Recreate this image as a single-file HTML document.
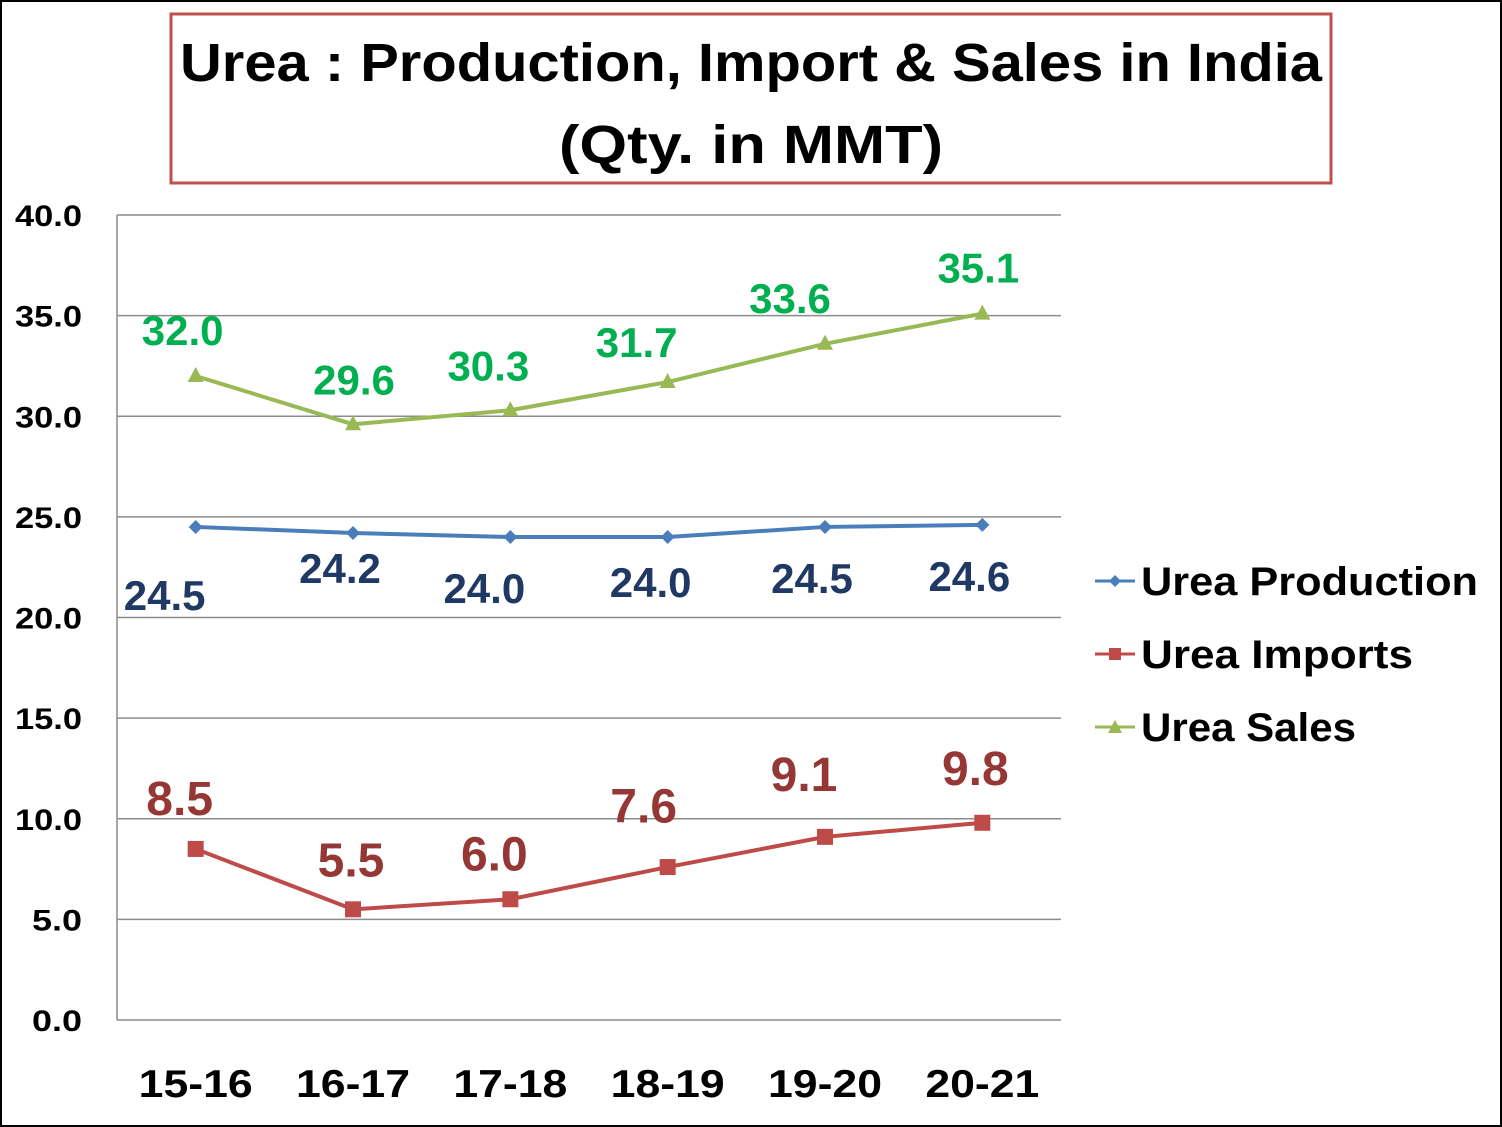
<!DOCTYPE html>
<html><head><meta charset="utf-8"><style>
html,body{margin:0;padding:0;background:#fff}
svg{display:block;font-family:"Liberation Sans",sans-serif;font-weight:bold}
</style></head><body>
<svg id="chart" width="1502" height="1127" viewBox="0 0 1502 1127">
<rect x="1" y="1" width="1500" height="1125" fill="#fff" stroke="#000" stroke-width="2"/>
<rect x="171" y="14" width="1160" height="169" fill="#fff" stroke="#C0504D" stroke-width="3"/>
<text x="751" y="81" text-anchor="middle" font-size="54" textLength="1142" lengthAdjust="spacingAndGlyphs">Urea : Production, Import &amp; Sales in India</text>
<text x="751" y="163" text-anchor="middle" font-size="54" textLength="384" lengthAdjust="spacingAndGlyphs">(Qty. in MMT)</text>
<g id="grid"></g><g id="series"></g><g id="labels"></g>
<g>
 <g>
  <line x1="1095" y1="581" x2="1135" y2="581" stroke="#4A7EBB" stroke-width="3"/>
  <path d="M1115 575 L1121 581 L1115 587 L1109 581Z" fill="#4A7EBB"/>
  <text x="1141" y="595" font-size="40" textLength="337" lengthAdjust="spacingAndGlyphs">Urea Production</text>
 </g>
 <g>
  <line x1="1095" y1="654" x2="1135" y2="654" stroke="#BE4B48" stroke-width="3"/>
  <rect x="1109" y="648" width="12" height="12" fill="#BE4B48"/>
  <text x="1141" y="668" font-size="40" textLength="272" lengthAdjust="spacingAndGlyphs">Urea Imports</text>
 </g>
 <g>
  <line x1="1095" y1="727" x2="1135" y2="727" stroke="#98B954" stroke-width="3"/>
  <path d="M1115 720 L1122 733 L1108 733Z" fill="#98B954"/>
  <text x="1141" y="741" font-size="40" textLength="215" lengthAdjust="spacingAndGlyphs">Urea Sales</text>
 </g>
</g>
</svg>
<script>
const categories = ["15-16","16-17","17-18","18-19","19-20","20-21"];
const production = [24.5,24.2,24.0,24.0,24.5,24.6];
const imports = [8.5,5.5,6.0,7.6,9.1,9.8];
const sales = [32.0,29.6,30.3,31.7,33.6,35.1];
const yTicks = [0,5,10,15,20,25,30,35,40];
const yTickLabels = ["0.0","5.0","10.0","15.0","20.0","25.0","30.0","35.0","40.0"];

const NS="http://www.w3.org/2000/svg";
const L=117,R=1061,T=215,B=1020,YMAX=40;
const bw=(R-L)/categories.length;
const x=i=>L+bw*(i+0.5);
const y=v=>B-(v/YMAX)*(B-T);
function mk(tag,attrs,parent){const e=document.createElementNS(NS,tag);for(const k in attrs)e.setAttribute(k,attrs[k]);parent.appendChild(e);return e;}
const grid=document.getElementById('grid'),ser=document.getElementById('series'),lab=document.getElementById('labels');

yTicks.forEach((t,i)=>{
  if(t>0){const g=mk('line',{x1:L,x2:R,y1:y(t),y2:y(t),stroke:'#8c8c8c','stroke-width':1.5},grid);
  
  }
  const lbl=yTickLabels[i];
  const tx=mk('text',{x:82,y:y(t)+11,'text-anchor':'end','font-size':30,textLength:lbl.length>3?67:50,lengthAdjust:'spacingAndGlyphs'},grid);
  
  
  tx.textContent=lbl;
});
const ax=mk('line',{x1:L,x2:L,y1:T,y2:B,stroke:'#8c8c8c','stroke-width':1.5},grid);


const bx=mk('line',{x1:L,x2:R,y1:B,y2:B,stroke:'#8c8c8c','stroke-width':1.5},grid);


categories.forEach((c,i)=>{
  const t=mk('text',{x:x(i),y:1097,'text-anchor':'middle','font-size':39,textLength:114,lengthAdjust:'spacingAndGlyphs'},grid);
  
  
  t.textContent=c;
});

const defs=[
 {name:'production',data:production,color:'#4A7EBB',lc:'#1F3864',fs:42,dx:[-31,-13,-26,-17,-13,-13],dy:[68,35,51,45,51,51],m:'diamond'},
 {name:'imports',data:imports,color:'#BE4B48',lc:'#953735',fs:48,dx:[-16,-2,-16,-24,-21,-7],dy:[-51,-50,-46,-62,-63,-55],m:'square'},
 {name:'sales',data:sales,color:'#98B954',lc:'#00B050',fs:42,dx:[-13,1,-22,-31,-35,-4],dy:[-46,-45,-45,-40,-46,-46],m:'tri'}
];
defs.forEach(d=>{
  const p=mk('polyline',{points:d.data.map((v,i)=>x(i)+','+y(v)).join(' '),fill:'none',stroke:d.color,'stroke-width':4},ser);
  
  
  d.data.forEach((v,i)=>{
    const cx=x(i),cy=y(v);let m;
    if(d.m==='diamond')m=mk('path',{d:`M${cx} ${cy-7}L${cx+7} ${cy}L${cx} ${cy+7}L${cx-7} ${cy}Z`,fill:d.color},ser);
    else if(d.m==='square')m=mk('rect',{x:cx-8,y:cy-8,width:16,height:16,fill:d.color},ser);
    else m=mk('path',{d:`M${cx} ${cy-9}L${cx+8} ${cy+6}L${cx-8} ${cy+6}Z`,fill:d.color},ser);
    
    
    const t=mk('text',{x:cx+d.dx[i],y:cy+d.dy[i]+d.fs*0.36,'text-anchor':'middle','font-size':d.fs,fill:d.lc},lab);
    
    
    t.textContent=v.toFixed(1);
  });
});
</script>
</body></html>
